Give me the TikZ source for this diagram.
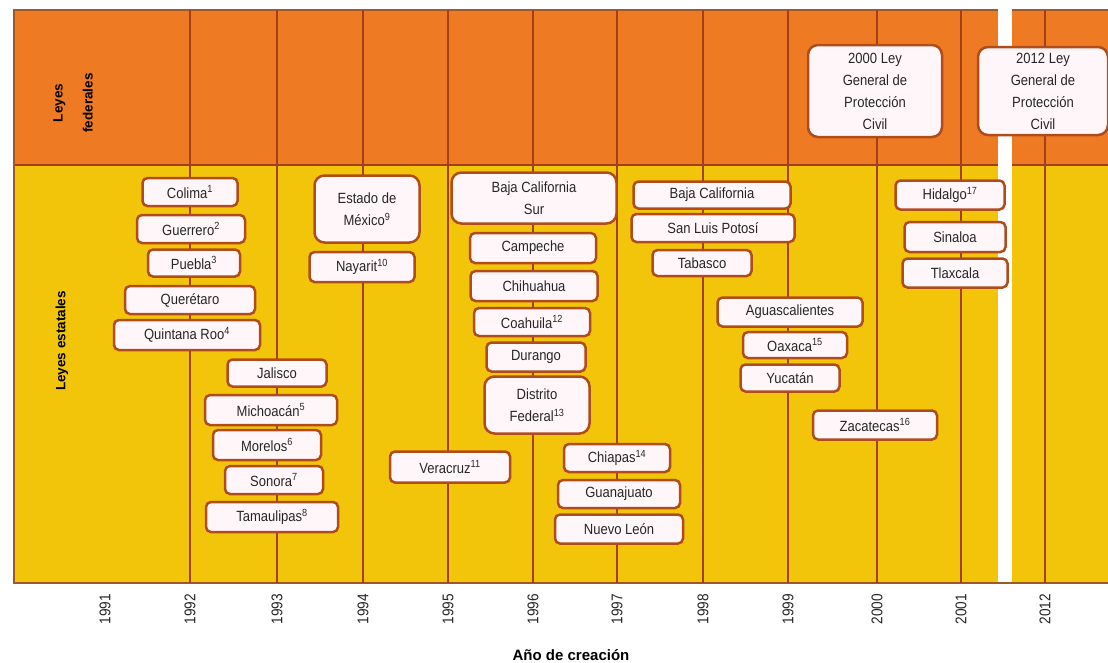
\documentclass[tikz,border=0pt]{standalone}
\usepackage{fontspec}
\setmainfont{Liberation Sans}
\newfontfamily\nar[FakeStretch=0.88]{Liberation Sans}
\definecolor{topor}{HTML}{EF7A24}
\definecolor{botye}{HTML}{F2C40A}
\definecolor{yline}{HTML}{A3401A}
\definecolor{bbord}{HTML}{B04C1C}
\definecolor{bfill}{HTML}{FFF6F9}
\definecolor{frame}{HTML}{9A5A2A}
\definecolor{lab}{HTML}{262626}
\tikzset{
  sbox/.style={draw=bbord, line width=2.5pt, fill=bfill, rounded corners=5pt,
    inner sep=1pt, align=center, text=lab,
    font=\nar\fontsize{14.8}{22}\selectfont},
  bigbox/.style={sbox, rounded corners=10pt},
  yearline/.style={draw=yline, line width=1.8pt},
  yearlab/.style={rotate=90, text=lab, font=\nar\fontsize{15.5}{17}\selectfont},
  sidelab/.style={rotate=90, text=black, align=center, font=\bfseries\fontsize{13.5}{16}\selectfont}
}
\begin{document}
\begin{tikzpicture}[x=1pt,y=-1pt]
\useasboundingbox (0,0) rectangle (1108,662);
\fill[white] (0,0) rectangle (1108,662);
% bands
\fill[topor] (14,10) rectangle (1108,165);
\fill[botye] (14,165) rectangle (1108,583);
\draw[yline, line width=1.5pt] (14,165) -- (1108,165);
\draw[frame, line width=1.5pt] (1108,10) -- (14,10) -- (14,583) -- (1108,583);
% year lines
\foreach \n/\x in {y1992/190, y1993/277, y1994/363, y1995/448, y1996/533, y1997/617, y1998/703, y1999/788, y2000/877, y2001/961, y2012/1045}{
  \coordinate (\n t) at (\x,10);
  \coordinate (\n b) at (\x,583);
  \draw[yearline] (\n t) -- (\n b);
}
% white gap
\fill[white] (998,8) rectangle (1012,582);
% side labels
\node[sidelab] (fed) at (73,103) {Leyes\\[14pt]federales};
\node[sidelab] (est) at (62,341) {Leyes estatales};
% year labels
\foreach \n/\x in {1991/105, 1992/190, 1993/277, 1994/363, 1995/448, 1996/533, 1997/617, 1998/703, 1999/788, 2000/877, 2001/961, 2012/1045}{
  \node[yearlab] (l\n) at (\x,609) {\n};
}
\node[font=\bfseries\fontsize{15}{18}\selectfont, text=black] (axis) at (571,655) {Año de creación};
% federal boxes
\node[bigbox, minimum width=134, minimum height=92] (f2000) at (875,91) {2000 Ley\\General de\\Protección\\Civil};
\node[bigbox, minimum width=130, minimum height=88] (f2012) at (1043,91) {2012 Ley\\General de\\Protección\\Civil};
% 1992
\node[sbox, minimum width=95, minimum height=28] (colima) at (190,192) {Colima\textsuperscript{1}};
\node[sbox, minimum width=108, minimum height=28] (guerrero) at (191,229) {Guerrero\textsuperscript{2}};
\node[sbox, minimum width=92, minimum height=27] (puebla) at (194,263) {Puebla\textsuperscript{3}};
\node[sbox, minimum width=130, minimum height=28] (queretaro) at (190,300) {Querétaro};
\node[sbox, minimum width=146, minimum height=30] (qroo) at (187,335) {Quintana Roo\textsuperscript{4}};
% 1993
\node[sbox, minimum width=99, minimum height=27] (jalisco) at (277,373) {Jalisco};
\node[sbox, minimum width=132, minimum height=30] (michoacan) at (271,410) {Michoacán\textsuperscript{5}};
\node[sbox, minimum width=108, minimum height=30] (morelos) at (267,445) {Morelos\textsuperscript{6}};
\node[sbox, minimum width=98, minimum height=28] (sonora) at (274,480) {Sonora\textsuperscript{7}};
\node[sbox, minimum width=132, minimum height=30] (tamaulipas) at (272,517) {Tamaulipas\textsuperscript{8}};
% 1994
\node[bigbox, minimum width=105, minimum height=67] (edomex) at (367,209) {Estado de\\México\textsuperscript{9}};
\node[sbox, minimum width=105, minimum height=30] (nayarit) at (362,267) {Nayarit\textsuperscript{10}};
% 1995
\node[sbox, minimum width=120, minimum height=31] (veracruz) at (450,467) {Veracruz\textsuperscript{11}};
% 1996
\node[bigbox, minimum width=165, minimum height=51] (bcs) at (534,198) {Baja California\\Sur};
\node[sbox, minimum width=126, minimum height=30] (campeche) at (533,248) {Campeche};
\node[sbox, minimum width=127, minimum height=30] (chihuahua) at (534,286) {Chihuahua};
\node[sbox, minimum width=116, minimum height=28] (coahuila) at (532,322) {Coahuila\textsuperscript{12}};
\node[sbox, minimum width=99, minimum height=29] (durango) at (536,357) {Durango};
\node[bigbox, minimum width=105, minimum height=57] (df) at (537,405) {Distrito\\Federal\textsuperscript{13}};
% 1997
\node[sbox, minimum width=106, minimum height=28] (chiapas) at (617,458) {Chiapas\textsuperscript{14}};
\node[sbox, minimum width=122, minimum height=28] (guanajuato) at (619,494) {Guanajuato};
\node[sbox, minimum width=128, minimum height=29] (nuevoleon) at (619,529) {Nuevo León};
% 1998
\node[sbox, minimum width=157, minimum height=27] (bc) at (712,195) {Baja California};
\node[sbox, minimum width=163, minimum height=28] (slp) at (713,228) {San Luis Potosí};
\node[sbox, minimum width=99, minimum height=26] (tabasco) at (702,263) {Tabasco};
% 1999
\node[sbox, minimum width=145, minimum height=29] (ags) at (790,312) {Aguascalientes};
\node[sbox, minimum width=104, minimum height=26] (oaxaca) at (795,345) {Oaxaca\textsuperscript{15}};
\node[sbox, minimum width=99, minimum height=27] (yucatan) at (790,378) {Yucatán};
% 2000
\node[sbox, minimum width=124, minimum height=29] (zacatecas) at (875,425) {Zacatecas\textsuperscript{16}};
% 2001
\node[sbox, minimum width=109, minimum height=29] (hidalgo) at (950,195) {Hidalgo\textsuperscript{17}};
\node[sbox, minimum width=101, minimum height=30] (sinaloa) at (955,237) {Sinaloa};
\node[sbox, minimum width=105, minimum height=29] (tlaxcala) at (955,273) {Tlaxcala};
\end{tikzpicture}
\end{document}
